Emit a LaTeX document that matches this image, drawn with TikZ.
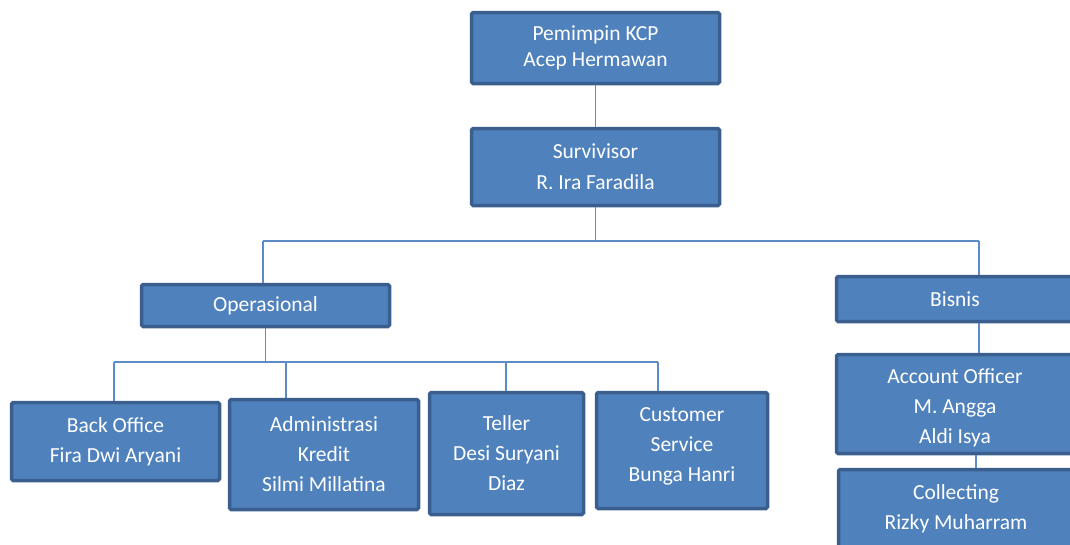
\documentclass[tikz,border=0pt]{standalone}
\usepackage{fontspec}
\setmainfont{Carlito}
\definecolor{boxfill}{HTML}{4F81BD}
\definecolor{boxdraw}{HTML}{3A5F8E}
\definecolor{linec}{HTML}{5B8CC8}
\tikzset{
  box/.style={draw=boxdraw, fill=boxfill, line width=3.5pt, rounded corners=1.5pt,
    text=white, font=\fontsize{21.5}{30}\selectfont, align=center, inner sep=0pt},
  conn/.style={draw=linec, line width=1.5pt}
}
\begin{document}
\begin{tikzpicture}[x=1pt,y=-1pt]
\useasboundingbox (0,0) rectangle (1070,544);
% coordinates for connector corners
\coordinate (h1) at (263,241);
\coordinate (h2) at (979,241);
\coordinate (o1) at (114,362);
\coordinate (o2) at (658,362);
% boxes
\node[box, minimum width=248pt, minimum height=71pt, font=\fontsize{21.5}{26}\selectfont] (top) at (595.5,48) {Pemimpin KCP\\Acep Hermawan};
\node[box, minimum width=248pt, minimum height=77pt, font=\fontsize{21.5}{31}\selectfont] (surv) at (595.5,167) {Survivisor\\R. Ira Faradila};
\node[box, minimum width=248pt, minimum height=42pt] (oper) at (265.5,305.5) {Operasional};
\node[box, minimum width=237pt, minimum height=45pt] (bis) at (955,299) {Bisnis};
\node[box, minimum width=237pt, minimum height=99pt] (ao) at (955,404) {\mbox{}\\[-7pt]Account Officer\\M. Angga\\Aldi Isya};
\node[box, minimum width=235pt, minimum height=81pt] (coll) at (956,510) {Collecting\\Rizky Muharram\\[-24pt]\mbox{}};
\node[box, minimum width=208pt, minimum height=78pt] (bo) at (115.5,441.5) {Back Office\\Fira Dwi Aryani};
\node[box, minimum width=189pt, minimum height=110pt] (adm) at (324,454.5) {Administrasi\\Kredit\\Silmi Millatina};
\node[box, minimum width=154pt, minimum height=122pt] (tel) at (506.5,453.5) {Teller\\Desi Suryani\\Diaz};
\node[box, minimum width=171pt, minimum height=116pt] (cs) at (682,450.5) {Customer\\Service\\Bunga Hanri\\[-18pt]\mbox{}};
% connectors
\draw[conn] (top.south) -- (surv.north);
\draw[conn] (surv.south) -- (surv.south |- h1);
\draw[conn] (h1) -- (h2);
\draw[conn] (h1) -- (h1 |- oper.north);
\draw[conn] (h2) -- (h2 |- bis.north);
\draw[conn] (bis.south -| h2) -- (ao.north -| h2);
\draw[conn] (ao.south -| 976,0) -- (coll.north -| 976,0);
\draw[conn] (oper.south) -- (oper.south |- o1);
\draw[conn] (o1) -- (o2);
\draw[conn] (o1) -- (bo.north -| o1);
\draw[conn] (286,362) -- (adm.north -| 286,0);
\draw[conn] (506,362) -- (tel.north -| 506,0);
\draw[conn] (o2) -- (cs.north -| o2);
\end{tikzpicture}
\end{document}
